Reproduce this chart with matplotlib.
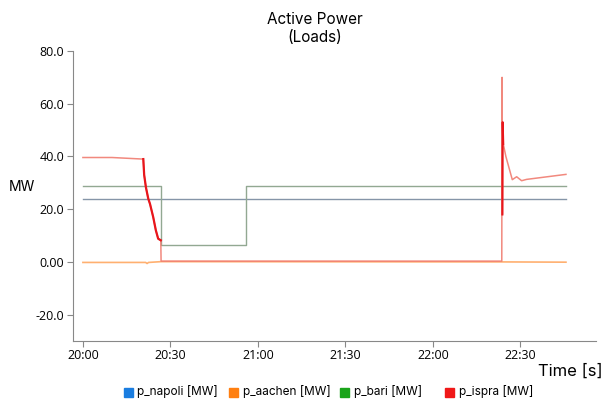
import matplotlib
matplotlib.use("Agg")
import matplotlib.pyplot as plt
from matplotlib.patches import Rectangle

# time in minutes after 20:00
napoli_t = [0, 165.6]
napoli_v = [24.0, 24.0]

aachen_t = [0, 21.5, 22.0, 22.5, 26.8, 143.6, 165.6]
aachen_v = [-0.2, -0.2, -0.6, -0.2, 0.1, 0.0, -0.1]

bari_t = [0, 26.7, 26.7, 55.9, 55.9, 165.6]
bari_v = [28.7, 28.7, 6.6, 6.6, 28.8, 28.8]

ispra_t = [0, 10, 20.7, 21.0, 21.6, 22.4, 23.0, 24.1, 25.0, 25.8, 26.7, 26.8,
           27.5, 143.6, 143.7, 143.8, 143.9, 144.1, 145.0, 147.2, 148.7, 150.4,
           152.1, 165.6]
ispra_v = [39.6, 39.6, 39.0, 33.0, 28.3, 24.0, 22.0, 17.0, 12.0, 8.8, 8.2, 0.3,
           0.3, 0.3, 70.0, 18.0, 53.0, 44.8, 40.0, 31.2, 32.3, 30.8,
           31.3, 33.2]

tick_pos = [0, 30, 60, 90, 120, 150]
tick_labels = ["20:00", "20:30", "21:00", "21:30", "22:00", "22:30"]
y_ticks = [-20, 0, 20, 40, 60, 80]
y_labels = ["-20.0", "0.00", "20.0", "40.0", "60.0", "80.0"]

legend_names = ["p_napoli [MW]", "p_aachen [MW]", "p_bari [MW]", "p_ispra [MW]"]
legend_colors = ["#1a7de0", "#ff7f10", "#1aa41a", "#f01818"]

W, H = 606, 401
fig = plt.figure(figsize=(W / 100, H / 100), dpi=100)
ax = fig.add_axes([72.7 / W, 1 - 341 / H, (596 - 72.7) / W, (341 - 51) / H])

ax.plot(napoli_t, napoli_v, color="#8595a8", lw=1.0)
ax.plot(bari_t, bari_v, color="#92a892", lw=1.0)
ax.plot(aachen_t, aachen_v, color="#ffb070", lw=1.2)
ax.plot(ispra_t, ispra_v, color="#f07c70", lw=1.1, alpha=0.9)
# steep sections appear saturated
ax.plot(ispra_t[2:11], ispra_v[2:11], color="#e8161c", lw=1.6)
ax.plot(ispra_t[15:18], ispra_v[15:18], color="#e8161c", lw=1.5)

ax.set_xlim(-3.5, 175.9)
ax.set_ylim(-30, 80)
ax.set_xticks(tick_pos)
ax.set_xticklabels(tick_labels, fontfamily="Open Sans", fontsize=9)
ax.set_yticks(y_ticks)
ax.set_yticklabels(y_labels, fontfamily="Open Sans", fontsize=9)
ax.tick_params(axis="both", length=4, color="#888888", width=0.8, pad=2)
for s in ["top", "right"]:
    ax.spines[s].set_visible(False)
for s in ["left", "bottom"]:
    ax.spines[s].set_color("#888888")
    ax.spines[s].set_linewidth(0.8)

fig.text(315 / W, 1 - 20 / H, "Active Power", ha="center", va="center",
         fontfamily="Inter", fontsize=11)
fig.text(315 / W, 1 - 38 / H, "(Loads)", ha="center", va="center",
         fontfamily="Inter", fontsize=11)
fig.text(22 / W, 1 - 187 / H, "MW", ha="center", va="center",
         fontfamily="Inter", fontsize=10)
fig.text(603 / W, 1 - 371 / H, "Time [s]", ha="right", va="center",
         fontfamily="Inter", fontsize=12)

sq_x = [124, 229, 340, 445]
tx_x = [137, 243, 354, 459]
for name, col, sx, tx in zip(legend_names, legend_colors, sq_x, tx_x):
    fig.patches.append(Rectangle((sx / W, 1 - 397 / H), 9 / W, 9 / H,
                                 transform=fig.transFigure, color=col))
    fig.text(tx / W, 1 - 392 / H, name, ha="left", va="center",
             fontfamily="Inter", fontsize=8.5)

fig.savefig("out.png", dpi=100)
